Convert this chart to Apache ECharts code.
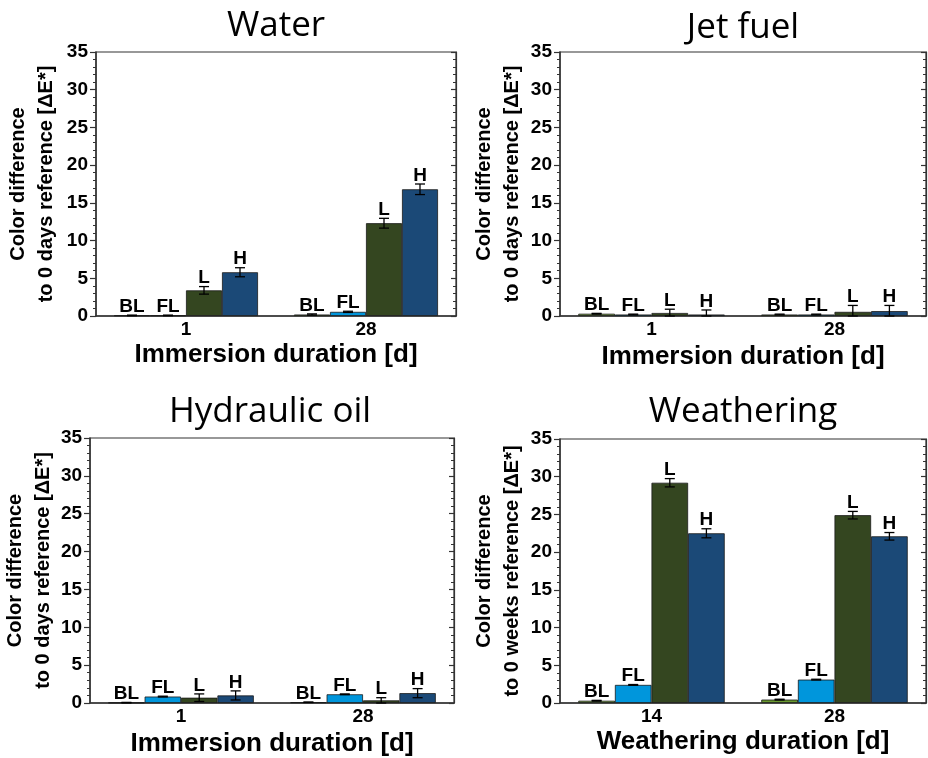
<!DOCTYPE html>
<html>
<head>
<meta charset="utf-8">
<script src="https://cdn.jsdelivr.net/npm/echarts@6/dist/echarts.min.js"></script>
<style>
html,body{margin:0;padding:0;background:#fff;}
#chart{width:928px;height:758px;}
</style>
</head>
<body>
<div id="chart"></div>
<script>
// ---- data ----
const groupNames = ['BL', 'FL', 'L', 'H'];
const groupColors = ['#6a9a30', '#0096dc', '#344620', '#1b4977'];
const yTicks = [0, 5, 10, 15, 20, 25, 30, 35];

const immersionDays = ['1', '28'];
const weatheringDays = ['14', '28'];

const waterBL = [0.08, 0.2];
const waterFL = [0.08, 0.55];
const waterL  = [3.4, 12.3];
const waterH  = [5.8, 16.8];
const waterErrBL = [0.04, 0.08];
const waterErrFL = [0.04, 0.08];
const waterErrL  = [0.5, 0.65];
const waterErrH  = [0.6, 0.7];

const jetBL = [0.3, 0.2];
const jetFL = [0.2, 0.2];
const jetL  = [0.4, 0.55];
const jetH  = [0.2, 0.65];
const jetErrBL = [0.05, 0.05];
const jetErrFL = [0.05, 0.05];
const jetErrL  = [0.5, 0.85];
const jetErrH  = [0.6, 0.75];

const hydBL = [0.05, 0.1];
const hydFL = [0.85, 1.15];
const hydL  = [0.7, 0.35];
const hydH  = [1.0, 1.3];
const hydErrBL = [0.03, 0.03];
const hydErrFL = [0.05, 0.05];
const hydErrL  = [0.5, 0.35];
const hydErrH  = [0.6, 0.6];

const weaBL = [0.3, 0.45];
const weaFL = [2.4, 3.1];
const weaL  = [29.2, 24.9];
const weaH  = [22.5, 22.1];
const weaErrBL = [0.05, 0.05];
const weaErrFL = [0.05, 0.05];
const weaErrL  = [0.55, 0.5];
const weaErrH  = [0.6, 0.5];

const titles = ['Water', 'Jet fuel', 'Hydraulic oil', 'Weathering'];
const yNames = [
  'Color difference\nto 0 days reference [\u0394E*]',
  'Color difference\nto 0 days reference [\u0394E*]',
  'Color difference\nto 0 days reference [\u0394E*]',
  'Color difference\nto 0 weeks reference [\u0394E*]'
];
const xNames = ['Immersion duration [d]', 'Immersion duration [d]', 'Immersion duration [d]', 'Weathering duration [d]'];

// ---- layout ----
const grids = [
  {left: 96, top: 52, width: 360, height: 264},
  {left: 560, top: 52, width: 366, height: 264},
  {left: 86, top: 438, width: 368, height: 265},
  {left: 560, top: 439, width: 366, height: 264}
];
const yNameGaps = [36, 31, 29, 28];
const xNameGaps = [26, 28, 28, 26];
const titleY = [26, 28, 412, 412];
const GAP = 0.2;

const panelCats = [immersionDays, immersionDays, immersionDays, weatheringDays];
const panelValues = [
  [waterBL, waterFL, waterL, waterH],
  [jetBL, jetFL, jetL, jetH],
  [hydBL, hydFL, hydL, hydH],
  [weaBL, weaFL, weaL, weaH]
];
const panelErrors = [
  [waterErrBL, waterErrFL, waterErrL, waterErrH],
  [jetErrBL, jetErrFL, jetErrL, jetErrH],
  [hydErrBL, hydErrFL, hydErrL, hydErrH],
  [weaErrBL, weaErrFL, weaErrL, weaErrH]
];

const AX = '#333';
const FONT = 'Liberation Sans, Arial, sans-serif';

function renderErr(params, api) {
  const cat = api.value(0), v = api.value(1), e = api.value(2), s = api.value(3);
  const band = api.size([1, 0])[0];
  const total = band * (1 - GAP);
  const bw = total / 4;
  const x = api.coord([cat, 0])[0] - total / 2 + bw * (s + 0.5);
  const yTop = api.coord([cat, v + e])[1];
  const yBot = api.coord([cat, Math.max(v - e, 0)])[1];
  const cap = 5;
  const st = {stroke: '#000', lineWidth: 1.3};
  return {
    type: 'group',
    children: [
      {type: 'line', shape: {x1: x, y1: yTop, x2: x, y2: yBot}, style: st},
      {type: 'line', shape: {x1: x - cap, y1: yTop, x2: x + cap, y2: yTop}, style: st},
      {type: 'line', shape: {x1: x - cap, y1: yBot, x2: x + cap, y2: yBot}, style: st},
      {type: 'text', style: {text: groupNames[s], x: x, y: yTop + 1, align: 'center', verticalAlign: 'bottom',
        font: 'bold 19px ' + FONT, fill: '#000'}}
    ]
  };
}

const option = {
  backgroundColor: '#fff',
  animation: false,
  grid: grids.map(g => Object.assign({show: true, borderColor: AX, borderWidth: 1.2, backgroundColor: 'transparent'}, g)),
  graphic: titles.map((t, i) => ({
    type: 'text',
    style: {text: t, x: grids[i].left + grids[i].width / 2, y: titleY[i], align: 'center', verticalAlign: 'middle',
      font: '35px "Open Sans", sans-serif', fill: '#000'}
  })),
  xAxis: grids.map((g, i) => ({
    type: 'category', gridIndex: i, data: panelCats[i],
    name: xNames[i], nameLocation: 'middle', nameGap: xNameGaps[i],
    nameTextStyle: {fontFamily: FONT, fontWeight: 'bold', fontSize: 26, color: '#000'},
    axisLine: {lineStyle: {color: AX, width: 1.5}},
    axisTick: {show: false},
    axisLabel: {fontFamily: FONT, fontWeight: 'bold', fontSize: 19, color: '#000', margin: 4},
    splitLine: {show: false}
  })),
  yAxis: [].concat(...grids.map((g, i) => [
    {
      type: 'value', gridIndex: i, min: yTicks[0], max: yTicks[yTicks.length - 1], interval: yTicks[1] - yTicks[0],
      name: yNames[i], nameLocation: 'middle', nameGap: yNameGaps[i], nameRotate: 90,
      nameTextStyle: {fontFamily: FONT, fontWeight: 'bold', fontSize: 20, lineHeight: 28, color: '#000', align: 'center'},
      axisLine: {show: true, lineStyle: {color: AX, width: 1.5}},
      axisTick: {show: true, inside: false, length: 6, lineStyle: {color: AX, width: 1.2}},
      minorTick: {show: true, splitNumber: 5, length: 3, lineStyle: {color: AX, width: 1}},
      axisLabel: {fontFamily: FONT, fontWeight: 'bold', fontSize: 19, color: '#000', margin: 8},
      splitLine: {show: false}
    },
    {
      type: 'value', gridIndex: i, position: 'right', min: yTicks[0], max: yTicks[yTicks.length - 1], interval: yTicks[1] - yTicks[0],
      axisLine: {show: true, lineStyle: {color: AX, width: 1.2}},
      axisTick: {show: true, inside: true, length: 5, lineStyle: {color: AX, width: 1.2}},
      minorTick: {show: true, splitNumber: 5, length: 3, lineStyle: {color: AX, width: 1}},
      axisLabel: {show: false},
      splitLine: {show: false}
    }
  ])),
  series: []
};

grids.forEach((g, i) => {
  groupNames.forEach((name, s) => {
    option.series.push({
      type: 'bar', name: name, xAxisIndex: i, yAxisIndex: i * 2,
      data: panelValues[i][s],
      barGap: '0%', barCategoryGap: (GAP * 100) + '%',
      itemStyle: {color: groupColors[s], borderColor: '#1a1a1a', borderWidth: 0.8},
      z: 2
    });
  });
  const errData = [];
  panelCats[i].forEach((c, ci) => {
    groupNames.forEach((name, s) => {
      errData.push([ci, panelValues[i][s][ci], panelErrors[i][s][ci], s]);
    });
  });
  option.series.push({
    type: 'custom', xAxisIndex: i, yAxisIndex: i * 2, renderItem: renderErr,
    data: errData, encode: {x: 0, y: 1}, z: 5, clip: false
  });
});

const chart = echarts.init(document.getElementById('chart'), null, {renderer: 'canvas'});
chart.setOption(option);
</script>
</body>
</html>
